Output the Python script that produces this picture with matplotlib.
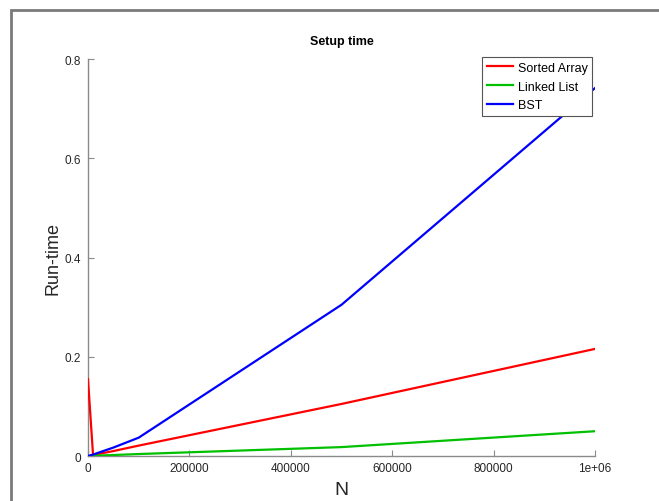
import matplotlib.pyplot as plt
from matplotlib.patches import Rectangle

plt.rcParams['font.family'] = ['Liberation Sans', 'DejaVu Sans']

# Input sizes
N = [10, 10000, 50000, 100000, 500000, 1000000]

# Setup run-times for each structure
sorted_array = [0.155, 0.002, 0.010, 0.021, 0.105, 0.216]
linked_list = [0.0, 0.0005, 0.002, 0.004, 0.018, 0.050]
bst = [0.0, 0.003, 0.017, 0.037, 0.305, 0.742]

x_ticks = [0, 200000, 400000, 600000, 800000, 1000000]
x_labels = ["0", "200000", "400000", "600000", "800000", "1e+06"]
y_ticks = [0, 0.2, 0.4, 0.6, 0.8]
y_labels = ["0", "0.2", "0.4", "0.6", "0.8"]

fig = plt.figure(figsize=(6.59, 5.02), dpi=100)
ax = fig.add_axes([0.1335, 0.0896, 0.7695, 0.7904])

# Lines
ax.plot(N, sorted_array, color="#ff0000", lw=1.6, label="Sorted Array", zorder=3)
ax.plot(N, linked_list, color="#00c000", lw=1.6, label="Linked List", zorder=3)
ax.plot(N, bst, color="#0000ff", lw=1.6, label="BST", zorder=3)

ax.set_xlim(0, 1000000)
ax.set_ylim(0, 0.8)
ax.set_xticks(x_ticks)
ax.set_xticklabels(x_labels)
ax.set_yticks(y_ticks)
ax.set_yticklabels(y_labels)

# Octave-like axes
for s in ["top", "right"]:
    ax.spines[s].set_visible(False)
for s in ["left", "bottom"]:
    ax.spines[s].set_color("#8a8a8a")
    ax.spines[s].set_linewidth(1.0)
    ax.spines[s].set_zorder(1)
ax.tick_params(direction="in", length=4, color="#8a8a8a", labelsize=8.5, labelcolor="#262626")
ax.tick_params(axis="x", pad=4)
ax.tick_params(axis="y", pad=5)

ax.set_title("Setup time", fontsize=9, fontweight="bold", pad=11)
ax.set_xlabel("N", fontsize=14, color="#262626", labelpad=5)
ax.set_ylabel("Run-time", fontsize=13, color="#262626")
ax.yaxis.set_label_coords(-0.053, 0.5)

leg = ax.legend(loc="upper right", bbox_to_anchor=(0.994, 1.005), fontsize=9,
                fancybox=False, framealpha=1, edgecolor="#555555",
                handlelength=2.1, handletextpad=0.4, borderpad=0.35,
                labelspacing=0.55, borderaxespad=0)
leg.get_frame().set_linewidth(0.8)

# Screenshot border
fig.patches.append(Rectangle((11 / 659, -0.1), 1.2, 1 - 11 / 502 + 0.1,
                             transform=fig.transFigure, fill=False,
                             edgecolor="#7a7a7a", lw=2))

fig.savefig("out.png", dpi=100)
